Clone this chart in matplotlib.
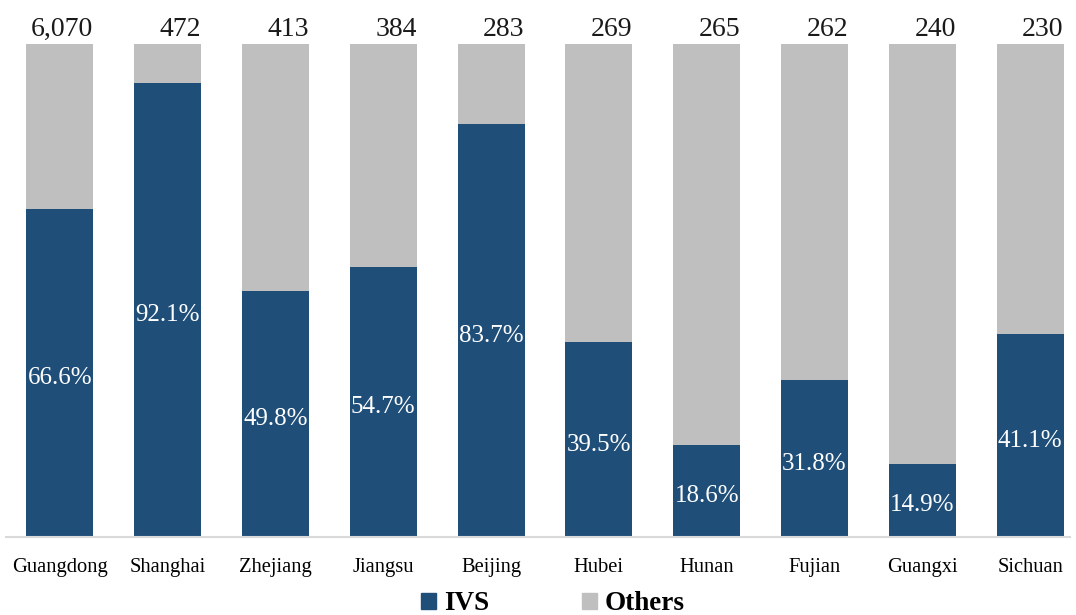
import numpy as np
import matplotlib
matplotlib.use("Agg")
import matplotlib.pyplot as plt
from matplotlib.patches import Patch

plt.rcParams['font.family'] = ['Liberation Serif', 'DejaVu Serif']

# donnees
provinces = ['Guangdong', 'Shanghai', 'Zhejiang', 'Jiangsu', 'Beijing',
             'Hubei', 'Hunan', 'Fujian', 'Guangxi', 'Sichuan']
totals = [6070, 472, 413, 384, 283, 269, 265, 262, 240, 230]
ivs_share = [66.6, 92.1, 49.8, 54.7, 83.7, 39.5, 18.6, 31.8, 14.9, 41.1]
others_share = [100 - v for v in ivs_share]

blue = '#1F4E79'
grey = '#BFBFBF'

fig = plt.figure(figsize=(10.76, 6.15), dpi=100)
ax = fig.add_axes([6 / 1076, 1 - 537 / 615, 1064 / 1076, (537 - 44) / 615])

x = np.arange(len(provinces))
w = 0.62
ax.bar(x, ivs_share, width=w, color=blue, zorder=2)
ax.bar(x, others_share, width=w, bottom=ivs_share, color=grey, zorder=2)

for xi, v, tot in zip(x, ivs_share, totals):
    ax.text(xi, v / 2 - 1.0, f'{v:.1f}%', ha='center', va='center',
            color='white', fontsize=18)
    ax.text(xi + w / 2, 101.6, f'{tot:,}', ha='right', va='baseline',
            color='#1a1a1a', fontsize=20)

ax.set_xlim(-0.5, 9.37)
ax.set_ylim(0, 100)
ax.set_yticks([])
ax.set_xticks(x)
ax.set_xticklabels(provinces, fontsize=14.8)
ax.tick_params(axis='x', length=0, pad=15)
for s in ['top', 'right', 'left']:
    ax.spines[s].set_visible(False)
ax.spines['bottom'].set_color('#D9D9D9')
ax.spines['bottom'].set_linewidth(1.5)

handles = [Patch(color=blue, label='IVS'), Patch(color=grey, label='Others')]
fig.legend(handles=handles, loc='center', bbox_to_anchor=(0.514, 1 - 604 / 615),
           ncol=2, frameon=False, prop={'weight': 'bold', 'size': 19.5},
           handlelength=0.55, handleheight=0.55, columnspacing=3.4, handletextpad=0.3)

plt.savefig('out.png', dpi=100)
